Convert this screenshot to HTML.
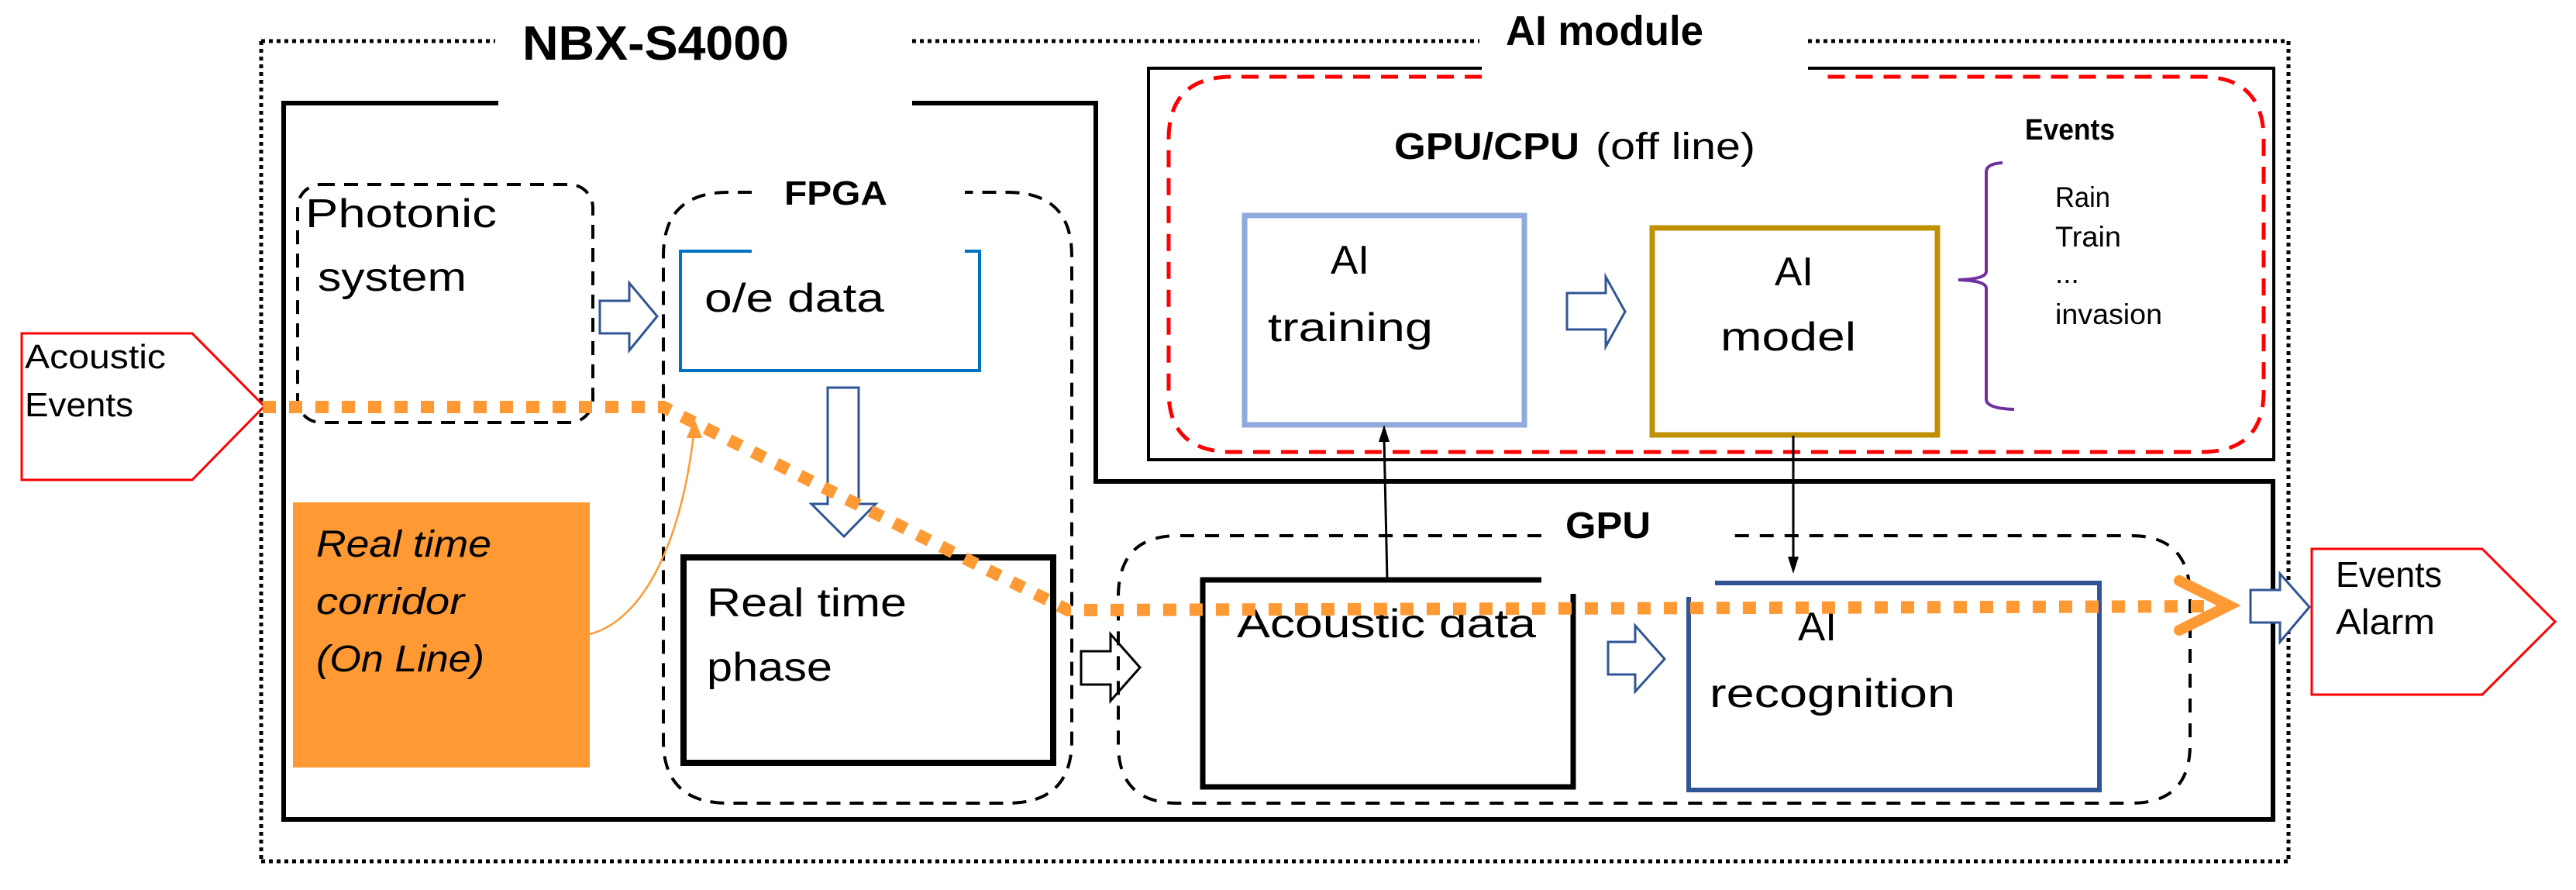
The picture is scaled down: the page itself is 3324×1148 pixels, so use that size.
<!DOCTYPE html>
<html><head><meta charset="utf-8"><style>
html,body{margin:0;padding:0;background:#fff;}
svg{display:block;}
text{font-family:"Liberation Sans",sans-serif;fill:#000;}
.b{font-weight:bold;}
</style></head><body>
<svg width="3324" height="1148" viewBox="0 0 3324 1148" xmlns="http://www.w3.org/2000/svg">
<!-- outer dotted -->
<g fill="none" stroke="#000" stroke-width="5" stroke-dasharray="5 5">
<line x1="337" y1="53" x2="639" y2="53"/><line x1="1177" y1="53" x2="1909" y2="53"/><line x1="2333" y1="53" x2="2953" y2="53"/>
<line x1="337" y1="53" x2="337" y2="1111"/><line x1="2953" y1="53" x2="2953" y2="1111"/>
<line x1="337" y1="1111" x2="2953" y2="1111"/>
</g>
<text class="b" x="674" y="77" font-size="62" textLength="344" lengthAdjust="spacingAndGlyphs">NBX-S4000</text>
<text class="b" x="1943" y="58" font-size="54" textLength="255" lengthAdjust="spacingAndGlyphs">AI module</text>
<!-- NBX solid box -->
<g fill="none" stroke="#000" stroke-width="6">
<polyline points="643,133 366,133 366,1057 2933,1057 2933,621 1414,621 1414,133 1177,133"/>
</g>
<!-- AI module solid box -->
<polyline points="1912,88 1482,88 1482,593 2934,593 2934,88 2333,88" fill="none" stroke="#000" stroke-width="4"/>
<!-- red dashed rounded -->
<path d="M1912,99 H1590 Q1508,99 1508,180 V505 Q1508,583 1590,583 H2840 Q2921,583 2921,505 V180 Q2921,99 2840,99 H2345" fill="none" stroke="#f00" stroke-width="5" stroke-dasharray="22 14"/>
<text class="b" x="1799" y="205" font-size="48" textLength="239" lengthAdjust="spacingAndGlyphs">GPU/CPU</text>
<text x="2059" y="205" font-size="48" textLength="206" lengthAdjust="spacingAndGlyphs">(off line)</text>
<text class="b" x="2613" y="180" font-size="38" textLength="116" lengthAdjust="spacingAndGlyphs">Events</text>
<text x="2652" y="267" font-size="37" textLength="71" lengthAdjust="spacingAndGlyphs">Rain</text>
<text x="2652" y="318" font-size="37" textLength="85" lengthAdjust="spacingAndGlyphs">Train</text>
<text x="2652" y="365" font-size="37">...</text>
<text x="2652" y="418" font-size="37" textLength="138" lengthAdjust="spacingAndGlyphs">invasion</text>
<path d="M2584,210 Q2563,211 2563,222 V350 Q2563,360 2527,361 Q2563,362 2563,372 V515 Q2563,527 2599,528" fill="none" stroke="#7030a0" stroke-width="4"/>
<!-- AI training -->
<rect x="1606" y="278" width="361" height="270" fill="none" stroke="#8faadc" stroke-width="7"/>
<text x="1717" y="353" font-size="52" textLength="50" lengthAdjust="spacingAndGlyphs">AI</text>
<text x="1636" y="440" font-size="52" textLength="213" lengthAdjust="spacingAndGlyphs">training</text>
<polygon points="2022,378 2072,378 2072,357 2097,402 2072,447 2072,425 2022,425" fill="#fff" stroke="#2f5597" stroke-width="3"/>
<!-- AI model -->
<rect x="2132" y="294" width="368" height="267" fill="none" stroke="#bf9000" stroke-width="7"/>
<text x="2290" y="368" font-size="52" textLength="50" lengthAdjust="spacingAndGlyphs">AI</text>
<text x="2220" y="452" font-size="52" textLength="175" lengthAdjust="spacingAndGlyphs">model</text>
<!-- Photonic -->
<rect x="384" y="238" width="381" height="307" rx="30" fill="none" stroke="#000" stroke-width="4" stroke-dasharray="18 12"/>
<text x="394" y="293" font-size="52" textLength="247" lengthAdjust="spacingAndGlyphs">Photonic</text>
<text x="410" y="375" font-size="52" textLength="192" lengthAdjust="spacingAndGlyphs">system</text>
<!-- FPGA -->
<path d="M970,248 H940 Q856,248 856,330 V955 Q856,1036 940,1036 H1300 Q1383,1036 1383,955 V330 Q1383,248 1300,248 H1245" fill="none" stroke="#000" stroke-width="4" stroke-dasharray="18 12"/>
<text class="b" x="1012" y="264" font-size="44" textLength="133" lengthAdjust="spacingAndGlyphs">FPGA</text>
<polyline points="970,324 878,324 878,478 1264,478 1264,324 1245,324" fill="none" stroke="#0070c0" stroke-width="4"/>
<text x="909" y="402" font-size="52" textLength="232" lengthAdjust="spacingAndGlyphs">o/e data</text>
<polygon points="774,388 812,388 812,365 848,408 812,452 812,430 774,430" fill="#fff" stroke="#2f5597" stroke-width="3"/>
<polygon points="1068,500 1108,500 1108,650 1130,650 1089,692 1047,650 1068,650" fill="#fff" stroke="#2f5597" stroke-width="3"/>
<!-- Real time phase -->
<rect x="882" y="719" width="477" height="265" fill="none" stroke="#000" stroke-width="8"/>
<text x="912" y="795" font-size="52" textLength="258" lengthAdjust="spacingAndGlyphs">Real time</text>
<text x="912" y="878" font-size="52" textLength="162" lengthAdjust="spacingAndGlyphs">phase</text>
<!-- orange box -->
<rect x="378" y="648" width="383" height="342" fill="#ff9933"/>
<g font-style="italic" font-size="48">
<text x="408" y="718" textLength="226" lengthAdjust="spacingAndGlyphs">Real time</text>
<text x="408" y="792" textLength="191" lengthAdjust="spacingAndGlyphs">corridor</text>
<text x="408" y="866" textLength="217" lengthAdjust="spacingAndGlyphs">(On Line)</text>
</g>
<path d="M761,818 C830,800 880,700 896,552" fill="none" stroke="#ff9933" stroke-width="2.5"/>
<polygon points="896,540 886,565 906,565" fill="#ff9933"/>
<!-- Acoustic events pentagon -->
<polygon points="28,430 248,430 341,524 248,619 28,619" fill="#fff" stroke="#f00" stroke-width="3"/>
<text x="32" y="475" font-size="44" textLength="182" lengthAdjust="spacingAndGlyphs">Acoustic</text>
<text x="32" y="537" font-size="44" textLength="140" lengthAdjust="spacingAndGlyphs">Events</text>
<polygon points="1395,840 1433,840 1433,818 1471,861 1433,904 1433,883 1395,883" fill="#fff" stroke="#000" stroke-width="3"/>
<!-- GPU dashed -->
<path d="M1989,691 H1520 Q1443,691 1443,770 V960 Q1443,1036 1520,1036 H2750 Q2826,1036 2826,960 V770 Q2826,691 2750,691 H2228" fill="none" stroke="#000" stroke-width="4" stroke-dasharray="18 14"/>
<text class="b" x="2020" y="694" font-size="48" textLength="110" lengthAdjust="spacingAndGlyphs">GPU</text>
<polyline points="1989,748 1552,748 1552,1015 2030,1015 2030,766" fill="none" stroke="#000" stroke-width="7"/>
<text x="1596" y="822" font-size="52" textLength="386" lengthAdjust="spacingAndGlyphs">Acoustic  data</text>
<polygon points="2075,828 2110,828 2110,807 2148,850 2110,892 2110,870 2075,870" fill="#fff" stroke="#2f5597" stroke-width="3"/>
<polyline points="2213,752 2709,752 2709,1019 2179,1019 2179,770" fill="none" stroke="#2f5597" stroke-width="6"/>
<text x="2320" y="826" font-size="52" textLength="50" lengthAdjust="spacingAndGlyphs">AI</text>
<text x="2206" y="912" font-size="52" textLength="317" lengthAdjust="spacingAndGlyphs">recognition</text>
<line x1="1790" y1="748" x2="1786" y2="566" stroke="#000" stroke-width="3"/>
<polygon points="1786,548 1779,570 1793,570" fill="#000"/>
<line x1="2314" y1="562" x2="2314" y2="722" stroke="#000" stroke-width="3"/>
<polygon points="2314,740 2307,718 2321,718" fill="#000"/>
<polyline points="339,525 856,525 1378,787 2860,782" fill="none" stroke="#ff9933" stroke-width="16" stroke-dasharray="17 17"/>
<polyline points="2812,749 2876,781 2812,813" fill="none" stroke="#ff9933" stroke-width="14" stroke-linecap="round"/>
<polygon points="2904,761 2942,761 2942,740 2980,783 2942,828 2942,803 2904,803" fill="#fff" stroke="#2f5597" stroke-width="3"/>
<polygon points="2983,708 3203,708 3297,802 3203,896 2983,896" fill="#fff" stroke="#f00" stroke-width="3"/>
<text x="3014" y="757" font-size="46" textLength="137" lengthAdjust="spacingAndGlyphs">Events</text>
<text x="3014" y="818" font-size="46" textLength="128" lengthAdjust="spacingAndGlyphs">Alarm</text>
</svg>
</body></html>
